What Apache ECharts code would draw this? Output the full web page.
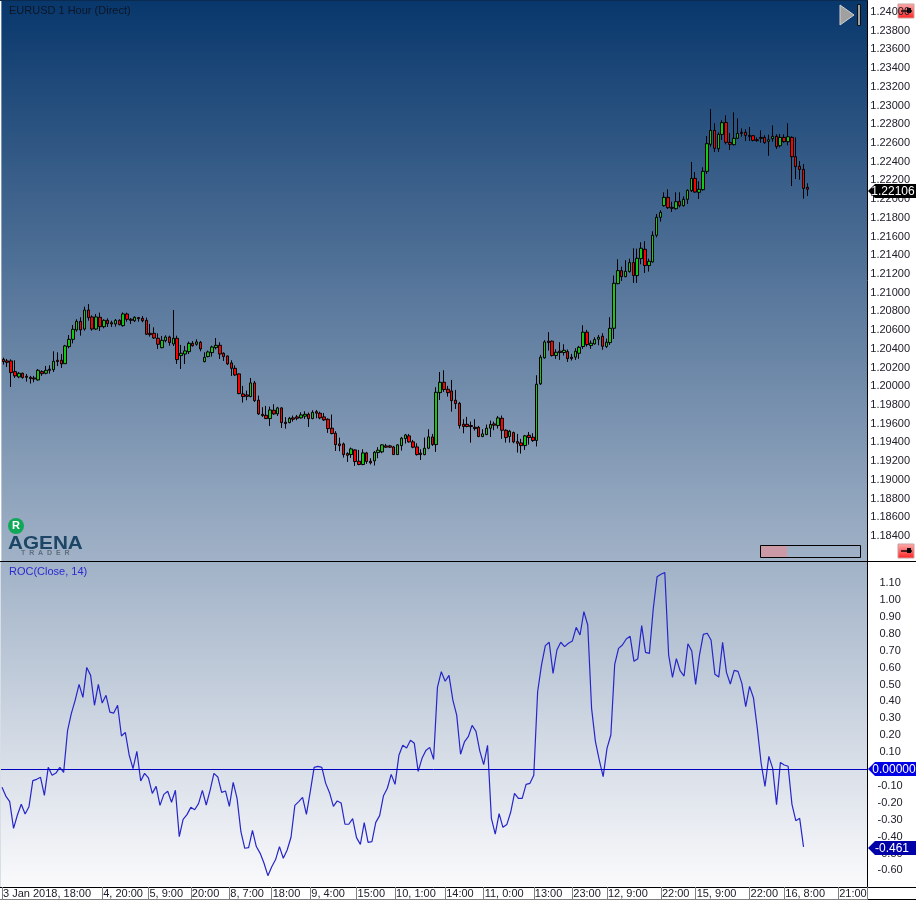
<!DOCTYPE html>
<html><head><meta charset="utf-8">
<style>html,body{margin:0;padding:0;background:#fff}#c{width:916px;height:901px}</style>
<script src="https://cdn.jsdelivr.net/npm/echarts@6/dist/echarts.min.js"></script>
</head><body><div id="c"></div>
<script>
const instrument = "EURUSD 1 Hour (Direct)";
const indicatorName = "ROC(Close, 14)";
const lastClose = 1.22106;
const lastRoc = -0.461;
const priceTicks = [1.24,1.238,1.236,1.234,1.232,1.23,1.228,1.226,1.224,1.222,1.22,1.218,1.216,1.214,1.212,1.21,1.208,1.206,1.204,1.202,1.2,1.198,1.196,1.194,1.192,1.19,1.188,1.186,1.184];
const rocTicks = [1.1,1,0.9,0.8,0.7,0.6,0.5,0.4,0.3,0.2,0.1,0,-0.1,-0.2,-0.3,-0.4,-0.5,-0.6];
const timeTickBars = [0,26,38,49,59,70,80,92,102,115,125,138,148,157,171,180,194,203,217];
const timeTickLabels = ["3 Jan 2018, 18:00","4, 20:00","5, 9:00","20:00","8, 7:00","18:00","9, 4:00","15:00","10, 1:00","14:00","11, 0:00","13:00","23:00","12, 9:00","22:00","15, 9:00","22:00","16, 8:00","21:00"];
// open, close, low, high
const ohlc = [
[1.20288,1.20264,1.20232,1.20306],[1.20271,1.20256,1.20207,1.20292],[1.20271,1.20146,1.19993,1.20288],[1.20157,1.20111,1.20089,1.20278],[1.20100,1.20139,1.20086,1.20153],
[1.20139,1.20093,1.20082,1.20146],[1.20107,1.20096,1.20050,1.20132],[1.20096,1.20082,1.20029,1.20111],[1.20089,1.20078,1.20043,1.20111],[1.20068,1.20171,1.20061,1.20185],
[1.20157,1.20135,1.20111,1.20171],[1.20139,1.20171,1.20128,1.20217],[1.20182,1.20171,1.20135,1.20224],[1.20178,1.20267,1.20153,1.20374],[1.20278,1.20264,1.20217,1.20363],
[1.20278,1.20239,1.20196,1.20345],[1.20242,1.20431,1.20239,1.20442],[1.20424,1.20502,1.20406,1.20548],[1.20502,1.20609,1.20459,1.20655],[1.20602,1.20694,1.20584,1.20716],
[1.20694,1.20602,1.20541,1.20737],[1.20612,1.20815,1.20595,1.20851],[1.20815,1.20734,1.20701,1.20879],[1.20741,1.20612,1.20595,1.20758],[1.20612,1.20741,1.20602,1.20773],
[1.20737,1.20637,1.20591,1.20787],[1.20637,1.20705,1.20620,1.20716],[1.20705,1.20669,1.20634,1.20726],[1.20680,1.20666,1.20634,1.20701],[1.20666,1.20705,1.20637,1.20719],
[1.20705,1.20659,1.20652,1.20716],[1.20648,1.20773,1.20637,1.20790],[1.20773,1.20716,1.20691,1.20787],[1.20716,1.20705,1.20666,1.20730],[1.20701,1.20737,1.20687,1.20748],
[1.20734,1.20723,1.20691,1.20741],[1.20726,1.20701,1.20684,1.20751],[1.20705,1.20556,1.20548,1.20734],[1.20566,1.20552,1.20531,1.20666],[1.20566,1.20516,1.20506,1.20630],
[1.20513,1.20449,1.20399,1.20566],[1.20413,1.20491,1.20406,1.20538],[1.20488,1.20527,1.20470,1.20545],[1.20527,1.20467,1.20434,1.20541],[1.20452,1.20513,1.20431,1.20815],
[1.20513,1.20285,1.20239,1.20541],[1.20328,1.20353,1.20185,1.20442],[1.20345,1.20378,1.20239,1.20431],[1.20370,1.20459,1.20345,1.20477],[1.20459,1.20434,1.20424,1.20484],
[1.20449,1.20474,1.20434,1.20502],[1.20470,1.20399,1.20374,1.20484],[1.20264,1.20310,1.20256,1.20363],[1.20317,1.20367,1.20310,1.20381],[1.20360,1.20420,1.20317,1.20434],
[1.20413,1.20438,1.20395,1.20516],[1.20438,1.20345,1.20292,1.20470],[1.20353,1.20317,1.20271,1.20363],[1.20324,1.20239,1.20228,1.20328],[1.20250,1.20192,1.20111,1.20278],
[1.20192,1.20121,1.20111,1.20224],[1.20132,1.19922,1.19915,1.20139],[1.19918,1.19890,1.19826,1.20004],[1.19908,1.19893,1.19851,1.19954],[1.19890,1.20036,1.19883,1.20089],
[1.20036,1.19847,1.19833,1.20057],[1.19851,1.19705,1.19694,1.19900],[1.19701,1.19687,1.19673,1.19776],[1.19690,1.19655,1.19651,1.19790],[1.19655,1.19747,1.19577,1.19783],
[1.19744,1.19705,1.19694,1.19808],[1.19705,1.19769,1.19683,1.19780],[1.19769,1.19612,1.19555,1.19776],[1.19616,1.19601,1.19548,1.19670],[1.19612,1.19658,1.19605,1.19673],
[1.19662,1.19648,1.19623,1.19687],[1.19673,1.19658,1.19637,1.19694],[1.19662,1.19694,1.19655,1.19722],[1.19680,1.19701,1.19651,1.19733],[1.19701,1.19655,1.19566,1.19719],
[1.19655,1.19722,1.19648,1.19744],[1.19729,1.19712,1.19658,1.19747],[1.19712,1.19662,1.19648,1.19729],[1.19673,1.19641,1.19630,1.19715],[1.19648,1.19548,1.19502,1.19658],
[1.19552,1.19495,1.19487,1.19698],[1.19498,1.19377,1.19309,1.19520],[1.19384,1.19366,1.19306,1.19452],[1.19384,1.19270,1.19238,1.19398],[1.19281,1.19263,1.19192,1.19295],
[1.19270,1.19331,1.19235,1.19345],[1.19320,1.19196,1.19149,1.19327],[1.19199,1.19164,1.19156,1.19320],[1.19164,1.19288,1.19156,1.19327],[1.19288,1.19196,1.19171,1.19299],
[1.19199,1.19181,1.19164,1.19231],[1.19203,1.19295,1.19153,1.19309],[1.19292,1.19317,1.19231,1.19349],[1.19299,1.19374,1.19285,1.19381],[1.19363,1.19349,1.19342,1.19384],
[1.19363,1.19349,1.19342,1.19374],[1.19352,1.19270,1.19267,1.19363],[1.19270,1.19374,1.19267,1.19381],[1.19366,1.19445,1.19313,1.19459],[1.19441,1.19480,1.19388,1.19491],
[1.19470,1.19406,1.19398,1.19491],[1.19406,1.19349,1.19338,1.19427],[1.19352,1.19270,1.19260,1.19391],[1.19285,1.19270,1.19213,1.19327],[1.19270,1.19338,1.19263,1.19452],
[1.19338,1.19459,1.19327,1.19541],[1.19459,1.19377,1.19363,1.19491],[1.19377,1.19936,1.19299,1.19990],[1.19932,1.20043,1.19854,1.20153],[1.20043,1.19965,1.19940,1.20171],
[1.19968,1.19932,1.19890,1.20004],[1.19950,1.19847,1.19729,1.20068],[1.19851,1.19815,1.19758,1.19961],[1.19818,1.19580,1.19548,1.19833],[1.19594,1.19570,1.19498,1.19648],
[1.19594,1.19570,1.19562,1.19673],[1.19580,1.19570,1.19398,1.19623],[1.19562,1.19548,1.19527,1.19648],[1.19562,1.19463,1.19456,1.19577],[1.19463,1.19491,1.19456,1.19541],
[1.19484,1.19552,1.19477,1.19591],[1.19552,1.19591,1.19459,1.19634],[1.19598,1.19584,1.19530,1.19623],[1.19580,1.19662,1.19548,1.19683],[1.19658,1.19530,1.19438,1.19687],
[1.19530,1.19452,1.19398,1.19541],[1.19463,1.19520,1.19398,1.19534],[1.19505,1.19406,1.19391,1.19516],[1.19409,1.19391,1.19292,1.19491],[1.19395,1.19366,1.19281,1.19438],
[1.19366,1.19470,1.19320,1.19480],[1.19477,1.19452,1.19377,1.19512],[1.19456,1.19420,1.19406,1.19498],[1.19421,1.20022,1.19357,1.20118],[1.20026,1.20311,1.20015,1.20336],
[1.20304,1.20474,1.20296,1.20492],[1.20482,1.20467,1.20382,1.20578],[1.20482,1.20329,1.20318,1.20489],[1.20329,1.20364,1.20293,1.20396],[1.20375,1.20361,1.20282,1.20471],
[1.20361,1.20385,1.20329,1.20449],[1.20371,1.20296,1.20261,1.20393],[1.20311,1.20296,1.20275,1.20346],[1.20311,1.20375,1.20282,1.20407],[1.20353,1.20417,1.20293,1.20432],
[1.20425,1.20578,1.20400,1.20652],[1.20578,1.20446,1.20425,1.20603],[1.20435,1.20460,1.20400,1.20489],[1.20453,1.20499,1.20446,1.20524],[1.20503,1.20524,1.20439,1.20549],
[1.20535,1.20428,1.20390,1.20567],[1.20425,1.20471,1.20410,1.20510],[1.20467,1.20620,1.20442,1.20738],[1.20620,1.21101,1.20506,1.21183],[1.21097,1.21236,1.21090,1.21357],
[1.21236,1.21172,1.21126,1.21279],[1.21172,1.21229,1.21165,1.21347],[1.21226,1.21322,1.21215,1.21364],[1.21322,1.21183,1.21105,1.21475],[1.21183,1.21368,1.21105,1.21471],
[1.21364,1.21475,1.21304,1.21539],[1.21464,1.21290,1.21211,1.21550],[1.21290,1.21336,1.21226,1.21364],[1.21329,1.21614,1.21322,1.21656],[1.21614,1.21806,1.21592,1.21841],
[1.21806,1.21859,1.21760,1.21881],[1.21930,1.22019,1.21920,1.22073],[1.22019,1.21909,1.21895,1.22105],[1.21912,1.21902,1.21863,1.21973],[1.21898,1.21973,1.21888,1.22073],
[1.21977,1.21930,1.21912,1.22073],[1.21930,1.21998,1.21920,1.22030],[1.21998,1.22094,1.21948,1.22105],[1.22091,1.22222,1.22076,1.22397],[1.22222,1.22076,1.22069,1.22290],
[1.22073,1.22105,1.22002,1.22190],[1.22101,1.22297,1.22091,1.22340],[1.22297,1.22593,1.22269,1.22675],[1.22586,1.22735,1.22561,1.22963],[1.22735,1.22543,1.22504,1.22810],
[1.22539,1.22692,1.22504,1.22714],[1.22692,1.22817,1.22632,1.22842],[1.22820,1.22607,1.22586,1.22895],[1.22607,1.22586,1.22525,1.22707],[1.22582,1.22650,1.22575,1.22927],
[1.22650,1.22703,1.22642,1.22863],[1.22714,1.22703,1.22667,1.22756],[1.22714,1.22682,1.22621,1.22746],[1.22682,1.22671,1.22621,1.22771],[1.22678,1.22628,1.22618,1.22685],
[1.22635,1.22625,1.22614,1.22660],[1.22660,1.22650,1.22603,1.22735],[1.22660,1.22603,1.22593,1.22682],[1.22618,1.22635,1.22464,1.22689],[1.22646,1.22671,1.22614,1.22788],
[1.22671,1.22561,1.22536,1.22692],[1.22571,1.22660,1.22553,1.22696],[1.22660,1.22614,1.22603,1.22692],[1.22614,1.22667,1.22575,1.22810],[1.22660,1.22454,1.22140,1.22671],
[1.22454,1.22347,1.22215,1.22660],[1.22351,1.22318,1.22208,1.22408],[1.22318,1.22116,1.22005,1.22375],[1.22126,1.22106,1.22034,1.22169]
];
const roc = [
-0.108,-0.160,-0.193,-0.351,-0.272,-0.209,-0.266,-0.223,-0.069,-0.061,-0.049,-0.156,0.010,-0.037,-0.024,0.010,-0.020,0.225,0.329,0.408,
0.501,0.424,0.601,0.554,0.377,0.501,0.390,0.436,0.337,0.331,0.377,0.195,0.217,0.083,0.002,0.105,-0.071,-0.026,-0.053,-0.144,
-0.103,-0.215,-0.150,-0.132,-0.197,-0.126,-0.400,-0.298,-0.270,-0.227,-0.241,-0.205,-0.126,-0.213,-0.126,-0.026,-0.047,-0.138,-0.130,-0.221,
-0.079,-0.174,-0.371,-0.469,-0.465,-0.363,-0.459,-0.499,-0.558,-0.631,-0.578,-0.536,-0.459,-0.528,-0.479,-0.404,-0.215,-0.193,-0.168,-0.268,
-0.134,0.010,0.016,0.010,-0.085,-0.140,-0.221,-0.189,-0.201,-0.327,-0.327,-0.294,-0.406,-0.446,-0.317,-0.434,-0.430,-0.316,-0.276,-0.158,
-0.114,-0.032,-0.091,0.081,0.140,0.124,0.170,0.152,-0.014,0.063,0.110,0.128,0.057,0.483,0.576,0.519,0.554,0.408,0.319,0.087,
0.160,0.191,0.258,0.223,0.106,0.026,0.140,-0.292,-0.385,-0.264,-0.345,-0.329,-0.256,-0.144,-0.174,-0.174,-0.091,-0.085,-0.037,0.457,
0.615,0.730,0.750,0.566,0.704,0.750,0.724,0.744,0.757,0.838,0.793,0.931,0.852,0.359,0.162,0.053,-0.045,0.122,0.201,0.619,
0.714,0.734,0.769,0.785,0.637,0.653,0.848,0.690,0.684,0.947,1.138,1.152,1.163,0.674,0.542,0.653,0.580,0.550,0.741,0.698,
0.501,0.674,0.797,0.803,0.763,0.560,0.544,0.749,0.572,0.503,0.584,0.578,0.507,0.369,0.489,0.422,0.241,0.034,-0.103,0.075,
0.004,-0.211,0.039,0.024,0.016,-0.209,-0.306,-0.292,-0.461
];

const FONT = '"Liberation Sans", Arial, sans-serif';
const chart = echarts.init(document.getElementById('c'), null, {renderer:'canvas', width:916, height:901});
const grad = (a,b)=> new echarts.graphic.LinearGradient(0,0,0,1,[{offset:0,color:a},{offset:1,color:b}]);
const candleSlots = Array.from({length:224},(_,i)=>i);
const rocSlots = Array.from({length:225},(_,i)=>i);

function tag(fill, text, opts){
  return function(params, api){
    const y = Math.round(api.coord([0, api.value(1)])[1]) + (opts.dy||0);
    const x = 868;
    return {type:'group', silent:true, children:[
      {type:'polygon', shape:{points:[[x,y],[x+7,y-7],[916,y-7],[916,y+7],[x+7,y+7]]}, style:{fill:fill}},
      {type:'text', x:opts.tx, y:y+1, style:{text:text, fill:'#fff', font:'12px '+FONT, textAlign:'center', textVerticalAlign:'middle'}}
    ]};
  };
}
function redButton(x,y){
  return {type:'group', x:x, y:y, children:[
    {type:'rect', shape:{x:0,y:0,width:16,height:14}, style:{fill:new echarts.graphic.LinearGradient(0,0,0,1,[{offset:0,color:'#ffb0b0'},{offset:1,color:'#ff2020'}]), stroke:'#c8a0a0', lineWidth:1}},
    {type:'line', shape:{x1:3,y1:7,x2:14,y2:7}, style:{stroke:'#000',lineWidth:1.4}},
    {type:'rect', shape:{x:9,y:4,width:4,height:5}, style:{fill:'#000'}}
  ]};
}

chart.setOption({
  animation:false,
  backgroundColor:'#ffffff',
  textStyle:{fontFamily:FONT},
  grid:[
    {left:1.37, width:865.8, top:0, height:561, show:true, borderWidth:0,
     backgroundColor:grad('#08376c','#a1b2c7')},
    {left:-2.49, width:869.6, top:562, height:325, show:true, borderWidth:0,
     backgroundColor:grad('#a1b2c7','#fafafc')}
  ],
  xAxis:[
    {type:'category', gridIndex:0, data:candleSlots, boundaryGap:true, show:false},
    {type:'category', gridIndex:1, data:rocSlots, boundaryGap:true,
     axisLine:{show:true, onZero:false, lineStyle:{color:'#000',width:1}},
     axisTick:{show:true, length:12, alignWithLabel:true, interval:(i)=>timeTickBars.includes(i), lineStyle:{color:'#808080',width:1}},
     splitLine:{show:false},
     axisLabel:{show:true, interval:(i)=>timeTickBars.includes(i), hideOverlap:false, showMinLabel:true, showMaxLabel:true, align:'left', margin:1, padding:[0,0,0,1],
       color:'#20202c', fontSize:11, fontFamily:FONT,
       formatter:(v)=>{const k=timeTickBars.indexOf(+v);return k>=0?timeTickLabels[k]:'';}}}
  ],
  yAxis:[
    {type:'value', gridIndex:0, position:'right', min:1.181328, max:1.241283, scale:true,
     axisLine:{show:true,onZero:false,lineStyle:{color:'#000',width:1}}, axisTick:{show:false}, splitLine:{show:false},
     axisLabel:{customValues:priceTicks, align:'center', margin:23, padding:[4,0,0,0], color:'#20202c', fontSize:11, fontFamily:FONT, formatter:(v)=>(+v).toFixed(5)}},
    {type:'value', gridIndex:1, position:'right', min:-0.69822, max:1.22485,
     axisLine:{show:true,onZero:false,lineStyle:{color:'#000',width:1}}, axisTick:{show:false}, splitLine:{show:false},
     axisLabel:{customValues:rocTicks, align:'center', margin:23, padding:[4,0,0,0], color:'#20202c', fontSize:11, fontFamily:FONT, formatter:(v)=>(+v).toFixed(2)}}
  ],
  title:[
    {text:instrument, left:9, top:5, padding:0, textStyle:{color:'#0c1626', fontSize:11, fontWeight:'normal', fontFamily:FONT}},
    {text:indicatorName, left:9, top:566, padding:0, textStyle:{color:'#2a2ad0', fontSize:11, fontWeight:'normal', fontFamily:FONT}}
  ],
  series:[
    {type:'candlestick', name:'EURUSD', xAxisIndex:0, yAxisIndex:0, data:ohlc, barWidth:3, clip:false,
     itemStyle:{color:'#14c814', color0:'#ff0000', borderColor:'#000', borderColor0:'#000', borderColorDoji:'#000', borderWidth:1}},
    {type:'line', name:'ROC', xAxisIndex:1, yAxisIndex:1, data:roc, showSymbol:false, symbol:'none', smooth:false,
     lineStyle:{color:'#2626c8', width:1.2},
     markLine:{silent:true, symbol:'none', label:{show:false}, lineStyle:{color:'#0000c0',width:1,type:'solid'}, data:[{yAxis:0}]}},
    {type:'custom', xAxisIndex:0, yAxisIndex:0, z:20, clip:false, silent:true, data:[[0,lastClose]],
     renderItem:tag('#000000', lastClose.toFixed(5), {tx:893,dy:2})},
    {type:'custom', xAxisIndex:1, yAxisIndex:1, z:20, clip:false, silent:true, data:[[0,0]],
     renderItem:tag('#0000e6', (0).toFixed(5), {tx:894,dy:0})},
    {type:'custom', xAxisIndex:1, yAxisIndex:1, z:21, clip:false, silent:true, data:[[0,lastRoc]],
     renderItem:tag('#0000a8', lastRoc.toFixed(3), {tx:892,dy:1})}
  ],
  graphic:[
    {type:'rect', z:30, silent:true, shape:{x:0,y:562,width:1,height:325}, style:{fill:'#d8dee6'}},
    {type:'line', z:30, silent:true, shape:{x1:0,y1:561.5,x2:916,y2:561.5}, style:{stroke:'#000',lineWidth:1}},
    {type:'line', z:30, silent:true, shape:{x1:0,y1:0.5,x2:868,y2:0.5}, style:{stroke:'#0a2a50',lineWidth:1}},
    {type:'line', z:30, silent:true, shape:{x1:867,y1:887.5,x2:916,y2:887.5}, style:{stroke:'#000',lineWidth:1}},
    {type:'line', z:30, silent:true, shape:{x1:0,y1:899.5,x2:867,y2:899.5}, style:{stroke:'#808080',lineWidth:1}},
    {type:'line', z:30, silent:true, shape:{x1:867,y1:899.5,x2:916,y2:899.5}, style:{stroke:'#000',lineWidth:1}},
    {type:'line', z:30, silent:true, shape:{x1:867.5,y1:887,x2:867.5,y2:900}, style:{stroke:'#808080',lineWidth:1}},
    {type:'polygon', z:30, silent:true, shape:{points:[[840,5],[854,15],[840,25]]}, style:{fill:'#a0a0a0',stroke:'#d0d0d0',lineWidth:1}},
    {type:'rect', z:30, silent:true, shape:{x:857.5,y:4.5,width:3,height:21}, style:{fill:'#a0a0a0',stroke:'#101010',lineWidth:1}},
    Object.assign(redButton(898,4),{z:30,silent:true}),
    Object.assign(redButton(898,544),{z:30,silent:true}),
    {type:'rect', z:30, silent:true, shape:{x:761,y:546,width:26,height:11}, style:{fill:'#cc9aa6'}},
    {type:'rect', z:30, silent:true, shape:{x:760.5,y:545.5,width:100,height:12}, style:{fill:'none',stroke:'#000',lineWidth:1}},
    {type:'circle', z:30, silent:true, shape:{cx:16,cy:526,r:8}, style:{fill:'#10a858'}},
    {type:'text', z:31, silent:true, x:16, y:526, style:{text:'R', fill:'#fff', font:'bold 11px '+FONT, textAlign:'center', textVerticalAlign:'middle'}},
    {type:'text', z:31, silent:true, x:8, y:544, scaleX:1.09, style:{text:'AGENA', fill:'#1d4566', font:'bold 19px '+FONT, textAlign:'left', textVerticalAlign:'middle'}},
    {type:'text', z:31, silent:true, x:21, y:553.5, style:{text:'T  R  A  D  E  R', fill:'#5f6f7e', font:'bold 7px '+FONT, textAlign:'left', textVerticalAlign:'middle'}}
  ]
});
</script></body></html>
